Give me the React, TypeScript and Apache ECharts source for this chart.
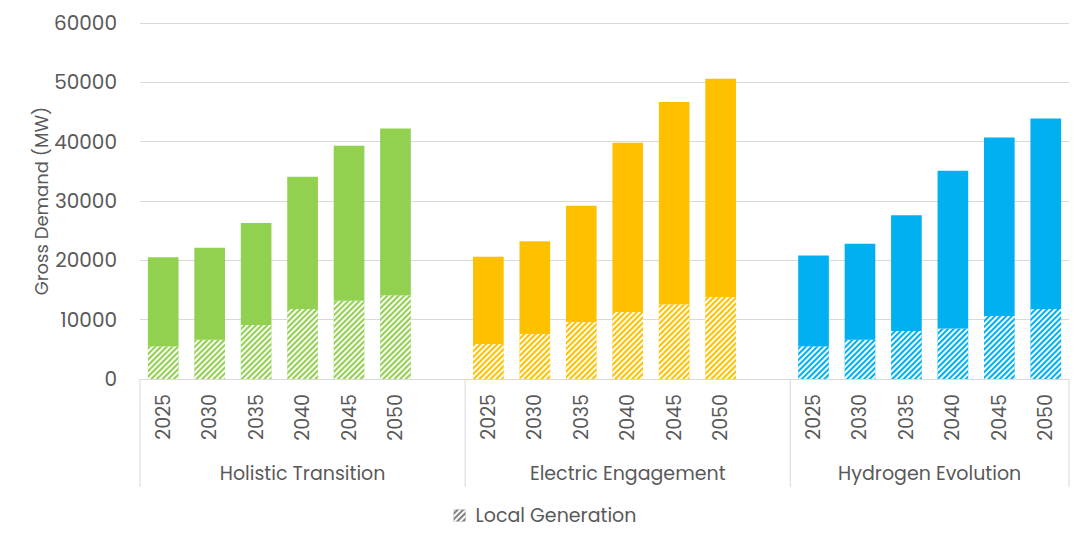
import React, { useEffect, useRef } from "react";
import * as echarts from "echarts";

const groups = ["Holistic Transition", "Electric Engagement", "Hydrogen Evolution"];
const years = ["2025", "2030", "2035", "2040", "2045", "2050"];
const groupColors = ["#92D050", "#FFC000", "#00B0F0"];

// Gross demand totals (MW)
const holisticTotal = [20500, 22100, 26300, 34100, 39300, 42200];
const electricTotal = [20600, 23200, 29200, 39800, 46700, 50600];
const hydrogenTotal = [20800, 22800, 27600, 35100, 40700, 43900];
// Local generation share (MW)
const holisticLocal = [5500, 6600, 9100, 11800, 13200, 14100];
const electricLocal = [5900, 7600, 9600, 11300, 12600, 13800];
const hydrogenLocal = [5500, 6600, 8100, 8500, 10600, 11800];

const yTicks = { min: 0, max: 60000, interval: 10000 };

const FONT = "Poppins, 'Open Sans', sans-serif";
const TEXT = "#595959";
const GRID_LINE = "#d9d9d9";

const totals = [holisticTotal, electricTotal, hydrogenTotal];
const locals = [holisticLocal, electricLocal, hydrogenLocal];

const DECAL = {
  symbol: "rect",
  symbolSize: 1,
  symbolKeepAspect: false,
  dashArrayX: [1, 0],
  dashArrayY: [1.7, 1.6],
  rotation: -Math.PI / 4,
  color: "rgba(255,255,255,0.95)",
};

export default function App() {
  const ref = useRef<HTMLDivElement>(null);

  useEffect(() => {
    document.body.style.margin = "0";
    if (!ref.current) return;
    const chart = echarts.init(ref.current, undefined, { renderer: "svg" });

    const categories: string[] = [];
    const localData: any[] = [];
    const restData: any[] = [];
    const groupStart: number[] = [];
    groups.forEach((g, gi) => {
      groupStart.push(categories.length);
      years.forEach((y, yi) => {
        categories.push(g + "|" + y);
        localData.push({ value: locals[gi][yi], itemStyle: { color: groupColors[gi], decal: DECAL } });
        restData.push({ value: totals[gi][yi] - locals[gi][yi], itemStyle: { color: groupColors[gi] } });
      });
      if (gi < groups.length - 1) {
        categories.push("gap" + gi);
        localData.push("-");
        restData.push("-");
      }
    });

    chart.setOption({
      animation: false,
      textStyle: { fontFamily: FONT },
      grid: { left: 140, right: 21, top: 23, bottom: 168, outerBoundsMode: "none" },
      legend: {
        data: ["Local Generation"],
        top: 501,
        left: "center",
        itemWidth: 12,
        itemHeight: 12,
        itemGap: 10,
        icon: "rect",
        textStyle: { color: TEXT, fontSize: 19, fontFamily: FONT, padding: [0, 0, 0, 5] },
      },
      xAxis: {
        type: "category",
        data: categories,
        axisLine: { lineStyle: { color: GRID_LINE, width: 1 } },
        axisTick: { show: false },
        axisLabel: {
          interval: 0,
          rotate: 90,
          margin: 15,
          color: TEXT,
          fontSize: 19,
          fontFamily: FONT,
          formatter: (v: string) => (v.indexOf("|") >= 0 ? v.split("|")[1] : ""),
        },
      },
      yAxis: {
        type: "value",
        min: yTicks.min,
        max: yTicks.max,
        interval: yTicks.interval,
        name: "Gross Demand (MW)",
        nameLocation: "middle",
        nameGap: 90,
        nameMoveOverlap: false,
        nameTextStyle: { color: TEXT, fontSize: 18, fontFamily: FONT },
        axisLine: { show: false },
        axisTick: { show: false },
        axisLabel: {
          color: TEXT,
          fontSize: 20,
          margin: 23,
          fontFamily: FONT,
          formatter: (v: number) => String(v),
        },
        splitLine: { lineStyle: { color: GRID_LINE, width: 1 } },
      },
      series: [
        {
          name: "Local Generation",
          type: "bar",
          stack: "demand",
          barWidth: "66%",
          itemStyle: { color: "#7f7f7f", decal: DECAL },
          data: localData,
        },
        {
          name: "Remaining Demand",
          type: "bar",
          stack: "demand",
          barWidth: "66%",
          data: restData,
        },
      ],
    });

    const c0 = chart.convertToPixel({ xAxisIndex: 0 }, 0) as number;
    const c1 = chart.convertToPixel({ xAxisIndex: 0 }, 1) as number;
    const band = c1 - c0;
    const axisY = chart.convertToPixel({ yAxisIndex: 0 }, 0) as number;
    const boundaries: number[] = [];
    groupStart.forEach((s) => boundaries.push((chart.convertToPixel({ xAxisIndex: 0 }, s) as number) - band / 2));
    boundaries.push((chart.convertToPixel({ xAxisIndex: 0 }, categories.length - 1) as number) + band / 2);

    const graphics: any[] = [];
    boundaries.forEach((bx) => {
      graphics.push({
        type: "line",
        shape: { x1: bx, y1: axisY, x2: bx, y2: axisY + 108 },
        style: { stroke: GRID_LINE, lineWidth: 1 },
        silent: true,
      });
    });
    groups.forEach((g, gi) => {
      const cx = (boundaries[gi] + boundaries[gi + 1]) / 2;
      graphics.push({
        type: "text",
        x: cx,
        y: axisY + 94,
        style: {
          text: g,
          fill: TEXT,
          font: `19px ${FONT}`,
          align: "center",
          verticalAlign: "middle",
        },
        silent: true,
      });
    });
    chart.setOption({ graphic: graphics });

    return () => chart.dispose();
  }, []);

  return <div ref={ref} style={{ width: 1090, height: 547 }} />;
}
